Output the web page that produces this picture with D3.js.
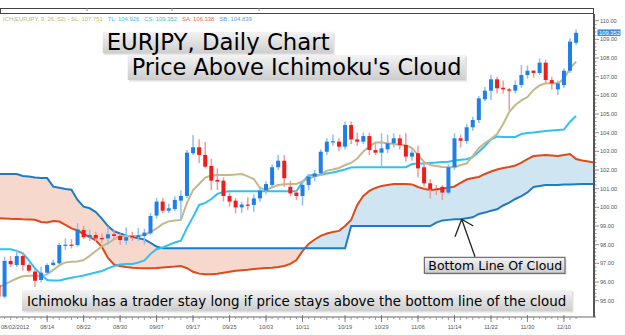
<!DOCTYPE html>
<html><head><meta charset="utf-8">
<script src="https://cdn.jsdelivr.net/npm/d3@7"></script>
<style>body{margin:0;background:#fff;} svg{display:block;}</style>
</head><body><svg id="c" width="625" height="335"></svg>
<script>
// ---------- DATA ----------
const openP = [
95.84,95.22,97.13,96.91,97.39,96.91,96.56,96.11,96.5,96.91,
97.0,97.96,98.0,97.98,98.79,98.4,98.52,98.36,98.34,98.56,
98.47,98.22,98.47,98.4,98.47,98.61,99.56,100.31,99.82,99.91,
100.36,100.61,102.9,103.22,102.81,102.22,101.47,101.43,100.61,100.36,
100.0,100.15,100.13,100.48,100.9,101.2,102.15,102.5,101.1,100.79,
100.61,101.2,101.65,101.82,102.98,103.5,103.52,103.25,104.41,103.64,
103.52,103.82,103.07,102.93,103.11,103.43,103.7,103.34,102.72,102.9,
102.15,101.29,101.0,101.1,100.79,102.15,103.7,103.56,104.29,104.68,
105.79,106.25,106.86,106.41,106.32,106.25,106.56,107.09,107.32,107.2,
107.75,106.82,106.32,106.55,107.32,108.82];
const highP = [
96.0,97.36,97.4,97.75,97.6,97.0,96.7,96.82,97.0,97.2,
98.1,98.34,98.3,99.15,99.0,98.8,98.7,98.6,98.97,98.8,
98.6,98.93,98.7,98.9,98.85,99.7,100.5,100.5,100.2,100.6,
100.9,103.07,103.88,103.65,103.5,102.6,102.09,101.6,100.8,100.5,
100.3,100.54,100.7,101.1,101.4,102.3,102.8,102.8,101.4,100.9,
101.4,101.8,102.0,103.1,103.7,103.9,103.7,104.6,104.6,104.0,
104.0,104.0,103.5,103.97,103.9,103.97,103.9,103.97,103.1,103.3,
102.45,101.5,101.2,101.2,102.3,103.97,103.9,104.47,104.86,105.96,
106.45,107.09,107.0,106.8,106.4,106.8,107.63,107.6,107.35,107.98,
107.9,107.0,106.8,107.45,109.06,109.54];
const lowP = [
95.1,95.13,96.8,96.8,96.6,96.5,95.75,95.97,96.4,96.85,
96.95,97.72,97.8,97.9,98.3,98.2,98.2,98.1,97.98,98.3,
98.0,97.98,98.2,98.2,98.0,98.5,99.4,99.7,99.7,99.8,
99.32,100.5,102.8,102.36,102.1,100.93,100.93,100.31,100.04,99.68,
99.7,99.86,99.77,100.3,100.7,101.1,102.0,101.1,100.6,100.4,
100.1,100.9,101.4,101.7,102.8,103.3,103.0,103.1,103.4,103.3,
103.4,102.8,102.8,102.15,102.9,103.2,103.1,102.45,102.5,101.6,
101.1,100.48,100.66,100.4,100.7,102.0,103.2,103.4,104.1,104.5,
105.7,105.75,106.1,106.1,105.2,106.1,106.4,106.9,106.95,107.1,
106.68,106.3,106.02,106.4,107.2,108.7];
const closeP = [
95.22,97.13,96.95,97.39,96.91,96.61,96.07,96.5,96.91,97.04,
97.98,98.0,97.97,98.82,98.4,98.52,98.34,98.33,98.56,98.47,
98.25,98.4,98.4,98.5,98.65,99.54,100.31,99.82,99.95,100.4,
100.61,102.93,103.22,102.81,102.18,101.43,101.38,100.61,100.31,100.0,
100.15,100.1,100.48,100.9,101.25,102.15,102.5,101.56,100.75,100.61,
101.2,101.65,101.82,102.98,103.52,103.54,103.25,104.41,103.64,103.52,
103.82,103.07,102.93,103.16,103.43,103.7,103.34,102.72,102.93,102.09,
101.29,100.97,100.93,100.79,102.15,103.7,103.57,104.29,104.68,105.84,
106.25,106.86,106.38,106.32,106.25,106.56,107.09,107.32,107.2,107.75,
106.82,106.64,106.64,107.32,108.88,109.352];

// Standard line (khaki)
const lineSL = [
95.71,95.87,96.03,96.19,96.31,96.33,96.33,96.33,96.41,96.65,
96.89,97.05,97.09,97.1,97.18,97.4,97.66,97.91,98.09,98.28,
98.47,98.47,98.47,98.47,98.52,98.68,98.87,99.11,99.25,99.3,
99.33,100.24,100.93,101.25,101.6,101.71,101.74,101.74,101.74,101.76,
101.79,101.66,101.52,101.04,100.93,101.07,101.2,101.24,101.25,101.25,
101.39,101.55,101.65,101.74,101.97,102.03,102.11,102.27,102.38,102.62,
102.99,103.26,103.48,103.47,103.43,103.4,103.34,103.34,103.18,102.81,
102.43,102.27,102.22,102.16,102.15,102.15,102.27,102.35,102.75,103.18,
103.45,103.66,103.93,104.47,105.11,105.48,105.73,105.91,106.29,106.53,
106.65,106.65,106.65,106.88,107.45,107.8];
// Turning line (light blue)
const lineTL = [
97.76,97.76,97.75,97.67,97.54,97.16,96.73,96.41,96.11,96.08,
96.08,96.16,96.23,96.29,96.35,96.43,96.51,96.59,96.73,96.86,
96.94,96.96,96.97,97.05,97.16,97.5,97.76,97.85,97.99,98.12,
98.22,98.9,99.49,100.13,100.24,100.45,100.72,100.83,100.86,100.86,
100.86,100.86,100.86,100.86,100.86,100.86,100.86,100.86,100.86,100.86,
101.36,101.71,101.74,101.74,101.82,101.87,101.95,102.03,102.14,102.15,
102.15,102.15,102.15,102.15,102.15,102.15,102.15,102.15,102.32,102.35,
102.35,102.38,102.4,102.43,102.45,102.51,102.55,102.58,102.7,102.98,
103.29,103.64,103.79,103.77,103.77,103.77,103.93,103.98,104.01,104.05,
104.09,104.12,104.15,104.17,104.59,104.9];
// Senkou span A (orange) and B (blue)
const spanA = [
99.42,99.41,99.39,99.38,99.36,99.35,99.34,99.22,99.19,99.27,
99.24,99.06,98.87,98.76,98.57,98.41,98.23,97.88,97.29,96.94,
96.86,96.81,96.77,96.75,96.74,96.74,96.75,96.78,96.81,96.83,
96.86,96.74,96.55,96.45,96.42,96.42,96.45,96.5,96.55,96.6,
96.63,96.66,96.7,96.73,96.75,96.77,96.8,96.86,96.97,97.18,
97.66,98.04,98.28,98.47,98.6,98.68,98.74,99.0,99.33,100.13,
100.61,100.88,101.04,101.15,101.2,101.25,101.25,101.25,101.23,101.09,
100.99,100.93,100.96,101.01,101.05,101.12,101.31,101.49,101.57,101.63,
101.79,101.92,102.03,102.11,102.16,102.24,102.4,102.59,102.75,102.78,
102.81,102.78,102.75,102.81,102.86,102.59,102.51,102.46,102.4];
const spanB = [
101.79,101.79,101.79,101.79,101.68,101.65,101.6,101.57,101.57,101.11,
101.05,100.99,100.95,100.4,100.04,99.95,99.75,99.4,99.0,98.72,
98.6,98.5,98.42,98.35,98.28,98.1,97.9,97.81,97.81,97.81,
97.81,97.81,97.81,97.81,97.81,97.81,97.81,97.81,97.81,97.81,
97.81,97.81,97.81,97.81,97.81,97.81,97.81,97.81,97.81,97.81,
97.81,97.81,97.81,97.81,97.81,97.81,97.81,97.81,99.0,99.0,
99.0,99.0,99.0,99.0,99.0,99.0,99.0,99.0,99.0,99.0,
99.0,99.0,99.18,99.3,99.33,99.36,99.36,99.42,99.47,99.65,
99.72,99.82,99.9,100.1,100.25,100.45,100.6,100.8,101.09,101.15,
101.2,101.2,101.2,101.22,101.22,101.24,101.25,101.25,101.25];

const dateTickIndex = [0,8,14,20,26,32,38,44,50,57,63,69,75,81,87,93];
const dateTickLabels = ["08/02/2012","08/14","08/22","08/30","09/07","09/17","09/25","10/03","10/11","10/19","10/29","11/06","11/14","11/22","11/30","12/10"];
const priceTicks = [95,96,97,98,99,100,101,102,103,104,105,106,107,108,109,110];
const lastPrice = 109.352;
const legendParts = [
  {t:"ICH(EURJPY, 9, 26, 52) -  SL: 107.751", c:"#c9b56e"},
  {t:"TL: 104.926", c:"#35bdf0"},
  {t:"CS: 109.352", c:"#3cc2c2"},
  {t:"SA: 106.338", c:"#ee6a4a"},
  {t:"SB: 104.839", c:"#5a9ee0"}];

// ---------- LAYOUT ----------
const svg = d3.select('#c');
const P = {l:0, r:594, t:14, b:317};
const x = d3.scaleLinear().domain([0,95]).range([-1.5,576.1]);
const y = d3.scaleLinear().domain([95,110]).range([300.7,20.7]);
const F = "'Liberation Sans', Arial, sans-serif";
const TF = "'DejaVu Sans', Verdana, sans-serif";

const defs = svg.append('defs');
defs.append('clipPath').attr('id','clip').append('rect')
  .attr('x',P.l).attr('y',P.t).attr('width',P.r-P.l).attr('height',P.b-P.t);
const g1 = defs.append('linearGradient').attr('id','gbox').attr('x1',0).attr('y1',0).attr('x2',0).attr('y2',1);
g1.append('stop').attr('offset','0%').attr('stop-color','#f3f3f3');
g1.append('stop').attr('offset','100%').attr('stop-color','#cdcdcd');

// top strip
svg.append('rect').attr('x',0.5).attr('y',8.5).attr('width',593).attr('height',5)
  .attr('fill','#fff').attr('stroke','#444').attr('stroke-width',1);
[87,172,259].forEach(v=>svg.append('line').attr('x1',v).attr('x2',v).attr('y1',8).attr('y2',11).attr('stroke','#888'));

// legend
let lx = 3;
const leg = svg.append('g');
legendParts.forEach((p,k)=>{
  const t = leg.append('text').attr('x',lx).attr('y',20.5).attr('font-family',F)
    .attr('font-size',5.9).attr('fill',p.c).text(p.t);
  lx += t.node().getComputedTextLength() + 5;
});

const plot = svg.append('g').attr('clip-path','url(#clip)');
const idxAB = d3.range(spanA.length);
// cloud
plot.append('path').datum(idxAB).attr('fill','#f7d8cc')
  .attr('d', d3.area().x(i=>x(i)).y0(i=>y(spanA[i])).y1(i=>y(Math.max(spanA[i],spanB[i]))));
plot.append('path').datum(idxAB).attr('fill','#cfe5f2')
  .attr('d', d3.area().x(i=>x(i)).y0(i=>y(spanB[i])).y1(i=>y(Math.max(spanA[i],spanB[i]))));

const lineOf = arr => d3.line().x((d,i)=>x(i)).y(d=>y(d))(arr);
plot.append('path').attr('d',lineOf(spanA)).attr('fill','none').attr('stroke','#de4a18').attr('stroke-width',2);
plot.append('path').attr('d',lineOf(spanB)).attr('fill','none').attr('stroke','#1e7cc0').attr('stroke-width',2);
plot.append('path').attr('d',lineOf(lineTL)).attr('fill','none').attr('stroke','#2ec2f4').attr('stroke-width',2);
plot.append('path').attr('d',lineOf(lineSL)).attr('fill','none').attr('stroke','#c2b88a').attr('stroke-width',2);

// candles
const idxC = d3.range(openP.length);
const cg = plot.append('g');
cg.selectAll('line.w').data(idxC).join('line')
  .attr('x1',i=>x(i)).attr('x2',i=>x(i))
  .attr('y1',i=>y(highP[i])).attr('y2',i=>y(lowP[i]))
  .attr('stroke',i=>closeP[i]>=openP[i]?'#8fc0f2':'#f29a9a').attr('stroke-width',1.5);
cg.selectAll('rect.b').data(idxC).join('rect')
  .attr('x',i=>x(i)-2).attr('width',4)
  .attr('y',i=>y(Math.max(openP[i],closeP[i])))
  .attr('height',i=>Math.max(1.2, Math.abs(y(openP[i])-y(closeP[i]))))
  .attr('fill',i=>closeP[i]>=openP[i]?'#1f7fe8':'#ee1c1c');

// frame
svg.append('line').attr('x1',P.r).attr('x2',P.r).attr('y1',P.t).attr('y2',P.b).attr('stroke','#555').attr('stroke-width',2);
svg.append('line').attr('x1',0).attr('x2',P.r+2).attr('y1',P.b).attr('y2',P.b).attr('stroke','#666').attr('stroke-width',1);

// right axis
const ra = svg.append('g');
d3.range(95,110.01,0.2).forEach(v=>{
  const major = Math.abs(v-Math.round(v))<0.01;
  ra.append('line').attr('x1',P.r+1).attr('x2',P.r+(major?5:2.5))
    .attr('y1',y(v)).attr('y2',y(v)).attr('stroke','#777').attr('stroke-width',0.8);
});
ra.selectAll('text').data(priceTicks).join('text')
  .attr('x',P.r+6).attr('y',v=>y(v)+2).attr('font-family',F).attr('font-size',5.6)
  .attr('fill','#555').text(v=>v.toFixed(2));
ra.append('rect').attr('x',P.r+3.5).attr('y',y(lastPrice)-3.4).attr('width',23).attr('height',6.6).attr('fill','#3a8fe6');
ra.append('text').attr('x',P.r+5).attr('y',y(lastPrice)+2).attr('font-family',F).attr('font-size',5.8)
  .attr('fill','#fff').text(lastPrice.toFixed(3));

// bottom axis
const ba = svg.append('g');
idxC.forEach(i=>{
  ba.append('line').attr('x1',x(i)).attr('x2',x(i)).attr('y1',P.b).attr('y2',P.b+(i%2?2:3))
    .attr('stroke','#888').attr('stroke-width',0.8);
});
dateTickIndex.forEach((ti,k)=>{
  ba.append('line').attr('x1',x(ti)).attr('x2',x(ti)).attr('y1',P.b-2).attr('y2',P.b+5).attr('stroke','#666').attr('stroke-width',0.8);
  ba.append('text').attr('x',k===0?1:x(ti)).attr('y',P.b+11.5)
    .attr('text-anchor',k===0?'start':'middle').attr('font-family',F).attr('font-size',5.6)
    .attr('fill','#555').text(dateTickLabels[k]);
});

// ---------- ANNOTATIONS ----------
function fit(t,w){ const L=t.node().getComputedTextLength(); t.attr('font-size', parseFloat(t.attr('font-size'))*w/L); }
function box(x0,y0,x1,y1,stroke){
  svg.append('rect').attr('x',x0+1.5).attr('y',y0+1.5).attr('width',x1-x0).attr('height',y1-y0).attr('fill','#000').attr('opacity',0.12);
  svg.append('rect').attr('x',x0).attr('y',y0).attr('width',x1-x0).attr('height',y1-y0)
    .attr('fill','url(#gbox)').attr('stroke',stroke||'none').attr('stroke-width',1);
}
box(102.7,31.7,333.3,53.3);
fit(svg.append('text').attr('x',106.7).attr('y',49.5).attr('font-family',TF).attr('font-size',22).attr('fill','#000').text('EURJPY, Daily Chart'),223);
box(127.7,55,465.5,80);
fit(svg.append('text').attr('x',131.7).attr('y',75).attr('font-family',TF).attr('font-size',22).attr('fill','#000').text("Price Above Ichimoku's Cloud"),330);

box(22,290,572,311);
fit(svg.append('text').attr('x',27).attr('y',305.5).attr('font-family',TF).attr('font-size',14).attr('fill','#000')
  .text('Ichimoku has a trader stay long if price stays above the bottom line of the cloud'),540);

box(424.3,257.3,565,273.3,'#555');
fit(svg.append('text').attr('x',428.3).attr('y',270).attr('font-family',TF).attr('font-size',13).attr('fill','#000').text('Bottom Line Of Cloud'),134);
// arrow
svg.append('line').attr('x1',475).attr('y1',256.7).attr('x2',461.7).attr('y2',219.3).attr('stroke','#222').attr('stroke-width',1.3);
svg.append('line').attr('x1',461.7).attr('y1',219.3).attr('x2',455).attr('y2',236.7).attr('stroke','#222').attr('stroke-width',1.3);
svg.append('line').attr('x1',461.7).attr('y1',219.3).attr('x2',473.3).attr('y2',226).attr('stroke','#222').attr('stroke-width',1.3);
</script></body></html>
